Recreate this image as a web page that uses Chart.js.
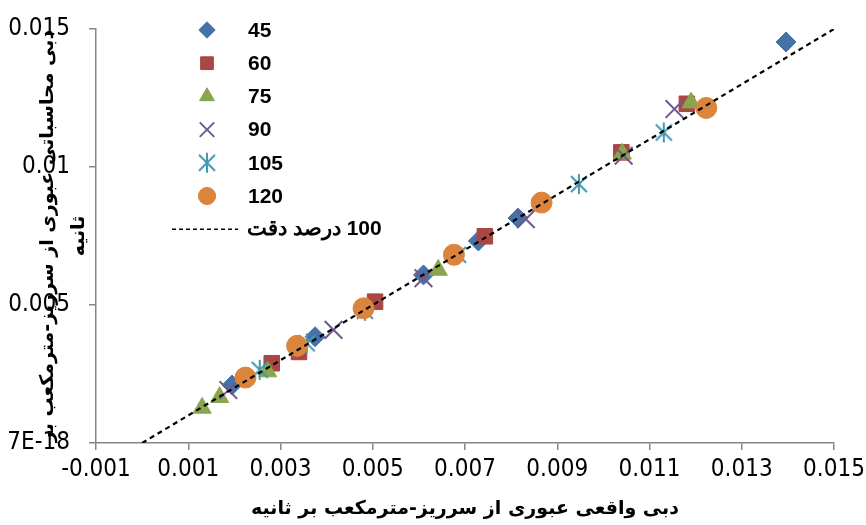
<!DOCTYPE html>
<html>
<head>
<meta charset="utf-8">
<script src="https://cdn.jsdelivr.net/npm/chart.js@4.4.0/dist/chart.umd.min.js"></script>
<style>
  html, body { margin: 0; padding: 0; background: #fff; }
  #wrap { width: 866px; height: 525px; position: relative; }
</style>
</head>
<body>
<div id="wrap"><canvas id="chart"></canvas></div>
<script>
// ── values ──
const seriesNames = ['45', '60', '75', '90', '105', '120'];
const lineName = '100 درصد دقت';

// x = real discharge, y = computed discharge (m3/s)
const real45 = [0.00195, 0.00375, 0.00610, 0.00729, 0.00815, 0.01396];
const calc45 = [0.00210, 0.00385, 0.00609, 0.00732, 0.00815, 0.01453];
const real60 = [0.00281, 0.00340, 0.00505, 0.00743, 0.01039, 0.01181];
const calc60 = [0.00289, 0.00330, 0.00512, 0.00749, 0.01053, 0.01229];
const real75 = [0.00130, 0.00168, 0.00272, 0.00642, 0.01041, 0.01190];
const calc75 = [0.00127, 0.00166, 0.00259, 0.00627, 0.01048, 0.01233];
const real90 = [0.00187, 0.00415, 0.00610, 0.00832, 0.01044, 0.01154];
const calc90 = [0.00192, 0.00410, 0.00597, 0.00811, 0.01041, 0.01210];
const real105 = [0.00255, 0.00357, 0.00483, 0.00685, 0.00947, 0.01131];
const calc105 = [0.00265, 0.00361, 0.00479, 0.00682, 0.00938, 0.01125];
const real120 = [0.00224, 0.00336, 0.00480, 0.00676, 0.00866, 0.01223];
const calc120 = [0.00237, 0.00352, 0.00488, 0.00682, 0.00871, 0.01214];

const lineX = [0, 0.015];
const lineY = [0, 0.015];

const xTicks = [-0.001, 0.001, 0.003, 0.005, 0.007, 0.009, 0.011, 0.013, 0.015];
const xTickLabels = ['-0.001', '0.001', '0.003', '0.005', '0.007', '0.009', '0.011', '0.013', '0.015'];
const yTicks = [0, 0.005, 0.01, 0.015];
const yTickLabels = ['7E-18', '0.005', '0.01', '0.015'];

const xTitle = 'دبی واقعی عبوری از سرریز-مترمکعب بر ثانیه';
const yTitle = ['دبی محاسباتی عبوری از سرریز-مترمکعب بر', 'ثانیه'];

// ── styles ──
const axisGrey = '#868686';
const tickFont = { family: "'Liberation Sans Narrow', 'DejaVu Sans Condensed', sans-serif", size: 24 };
const titleFont = { family: "'DejaVu Sans', sans-serif", size: 19, weight: 'bold' };

// asterisk marker (vertical bar + X), like the office "*" marker
function starMarker(color) {
  const c = document.createElement('canvas');
  c.width = 22; c.height = 22;
  const g = c.getContext('2d');
  g.strokeStyle = color;
  g.lineWidth = 2;
  g.beginPath();
  g.moveTo(11, 1); g.lineTo(11, 21);
  g.moveTo(3, 3); g.lineTo(19, 19);
  g.moveTo(19, 3); g.lineTo(3, 19);
  g.stroke();
  return c;
}

const looks = [
  { color: '#4572A7', pointStyle: 'rectRot', radius: 10 },
  { color: '#AA4643', pointStyle: 'rect', radius: 11 },
  { color: '#89A54E', pointStyle: 'triangle', radius: 10.5 },
  { color: '#71588F', pointStyle: 'crossRot', radius: 12.5, borderWidth: 2 },
  { color: '#4198AF', pointStyle: starMarker('#4198AF'), radius: 10 },
  { color: '#DB843D', pointStyle: 'circle', radius: 10.5 },
];

const pairs = [[real45, calc45], [real60, calc60], [real75, calc75],
               [real90, calc90], [real105, calc105], [real120, calc120]];

const toPoints = (xs, ys) => xs.map((x, i) => ({ x, y: ys[i] }));

const datasets = pairs.map(([xs, ys], i) => ({
  type: 'scatter',
  label: seriesNames[i],
  data: toPoints(xs, ys),
  pointStyle: looks[i].pointStyle,
  pointRadius: looks[i].radius,
  pointHoverRadius: looks[i].radius,
  backgroundColor: looks[i].color,
  borderColor: looks[i].color,
  borderWidth: looks[i].borderWidth || 1,
  order: 6 - i,          // later series sit on top
}));

datasets.push({
  type: 'line',
  label: lineName,
  data: toPoints(lineX, lineY),
  borderColor: '#000',
  borderWidth: 2.2,
  borderDash: [5, 4],
  pointRadius: 0,
  fill: false,
  order: 0,
});

// legend drawn inside the plot area, top-left
const insideLegend = {
  id: 'insideLegend',
  afterDatasetsDraw(chart) {
    const ctx = chart.ctx;
    const H = Chart.helpers;
    ctx.save();
    ctx.font = "bold 21px 'Liberation Sans', Arial, sans-serif";
    ctx.textBaseline = 'middle';
    chart.data.datasets.forEach((ds, i) => {
      const y = 30 + i * 33.2;
      if (ds.type === 'line') {
        ctx.strokeStyle = ds.borderColor;
        ctx.lineWidth = 1.6;
        ctx.setLineDash([4, 3]);
        ctx.beginPath();
        ctx.moveTo(172, y); ctx.lineTo(238, y);
        ctx.stroke();
        ctx.setLineDash([]);
        ctx.fillStyle = '#000';
        ctx.direction = 'rtl';
        ctx.textAlign = 'left';
        ctx.fillText(ds.label, 247, y);
        ctx.direction = 'ltr';
        return;
      }
      ctx.fillStyle = ds.backgroundColor;
      ctx.strokeStyle = ds.borderColor;
      ctx.lineWidth = ds.borderWidth;
      H.drawPoint(ctx, {
        pointStyle: ds.pointStyle,
        radius: ds.pointRadius * 0.82,
        rotation: 0,
        borderWidth: ds.borderWidth,
      }, 207, y);
      ctx.fillStyle = '#000';
      ctx.textAlign = 'left';
      ctx.fillText(ds.label, 248, y + 1);
    });
    ctx.restore();
  },
};

new Chart(document.getElementById('chart'), {
  type: 'scatter',
  data: { datasets },
  plugins: [insideLegend],
  options: {
    responsive: true,
    maintainAspectRatio: false,
    animation: false,
    layout: { padding: { top: 29, right: 32, bottom: 0, left: 0 } },
    plugins: { legend: { display: false }, tooltip: { enabled: false } },
    scales: {
      x: {
        type: 'linear',
        min: -0.001, max: 0.015,
        afterBuildTicks: s => { s.ticks = xTicks.map(v => ({ value: v })); },
        afterFit: s => { s.height = 82; s.paddingLeft = 0; s.paddingRight = 0; },
        grid: { drawOnChartArea: false, color: axisGrey, tickLength: 7, lineWidth: 1.5 },
        border: { color: axisGrey, width: 1.5 },
        ticks: { callback: (v, i) => xTickLabels[i], font: tickFont, color: '#000', padding: 5, maxRotation: 0, autoSkip: false },
        title: { display: true, text: xTitle, font: titleFont, color: '#000', padding: { top: 0, bottom: 5 } },
      },
      y: {
        type: 'linear',
        min: 0, max: 0.015,
        afterBuildTicks: s => { s.ticks = yTicks.map(v => ({ value: v })); },
        afterFit: s => { s.width = 96; s.paddingTop = 0; s.paddingBottom = 0; },
        grid: { drawOnChartArea: false, color: axisGrey, tickLength: 7, lineWidth: 1.5 },
        border: { color: axisGrey, width: 1.5 },
        ticks: { callback: (v, i) => yTickLabels[i], font: tickFont, color: '#000', padding: 19 },
        title: { display: true, text: yTitle, font: { ...titleFont, lineHeight: 1.6 }, color: '#000', padding: { top: 33, bottom: 0 } },
      },
    },
  },
});
</script>
</body>
</html>
